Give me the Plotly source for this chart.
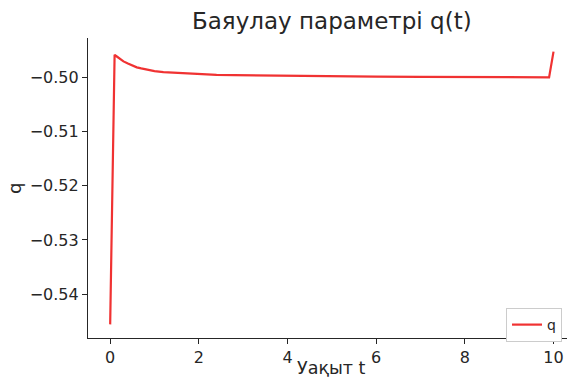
import plotly.graph_objects as go

# Decay parameter q over time
t_vals = [0.0, 0.1, 0.15, 0.2, 0.25, 0.3, 0.4, 0.5, 0.6, 0.7, 0.8, 0.9, 1.0, 1.2, 1.4,
          1.6, 1.8, 2.0, 2.4, 2.8, 3.5, 4.3, 5.0, 6.0, 7.0, 8.0, 9.0, 9.9, 10.0]
q_vals = [-0.5456, -0.4958, -0.4961, -0.4964, -0.4967, -0.4970, -0.4974, -0.4978,
          -0.4981, -0.4983, -0.4985, -0.4987, -0.4988, -0.4990, -0.4991, -0.4992,
          -0.4993, -0.4994, -0.49948, -0.49954, -0.49962, -0.4997, -0.49975,
          -0.4998, -0.49985, -0.4999, -0.49993, -0.49995, -0.4952]

x_ticks = [0, 2, 4, 6, 8, 10]
x_ticktext = ["0", "2", "4", "6", "8", "10"]
y_ticks = [-0.54, -0.53, -0.52, -0.51, -0.50]
y_ticktext = ["\u22120.54", "\u22120.53", "\u22120.52", "\u22120.51", "\u22120.50"]

TEXT = "#262626"
FONT = "DejaVu Sans"

fig = go.Figure()
fig.add_trace(go.Scatter(
    x=t_vals, y=q_vals, mode="lines", name="q",
    line=dict(color="#f03232", width=2.2),
))

axis_common = dict(
    showline=True, linecolor=TEXT, linewidth=1.2,
    ticks="outside", ticklen=5, tickwidth=1.2, tickcolor=TEXT,
    showgrid=False, zeroline=False,
    tickfont=dict(family=FONT, size=16, color=TEXT),
)

fig.update_layout(
    width=567, height=379,
    margin=dict(l=88, r=0, t=38, b=41),
    plot_bgcolor="white", paper_bgcolor="white",
    font=dict(family=FONT, color=TEXT),
    xaxis=dict(range=[-0.5, 10.304], tickvals=x_ticks, ticktext=x_ticktext, **axis_common),
    yaxis=dict(range=[-0.54812, -0.49268], tickvals=y_ticks, ticktext=y_ticktext, **axis_common),
    showlegend=True,
    legend=dict(
        x=0.8727, y=0.1, xanchor="left", yanchor="top",
        bgcolor="white", bordercolor="#cccccc", borderwidth=1,
        font=dict(family=FONT, size=14, color=TEXT),
    ),
    annotations=[
        dict(text="Баяулау параметрі q(t)", xref="paper", yref="paper",
             x=0.509, y=1.057, xanchor="center", yanchor="middle",
             showarrow=False, font=dict(family=FONT, size=23, color=TEXT)),
        dict(text="Уақыт t", xref="paper", yref="paper",
             x=0.509, y=-0.1, xanchor="center", yanchor="middle",
             showarrow=False, font=dict(family=FONT, size=17.5, color=TEXT)),
        dict(text="q", xref="paper", yref="paper", textangle=-90,
             x=-0.1545, y=0.5, xanchor="center", yanchor="middle",
             showarrow=False, font=dict(family=FONT, size=18, color=TEXT)),
    ],
)

fig.write_html("out.html")
